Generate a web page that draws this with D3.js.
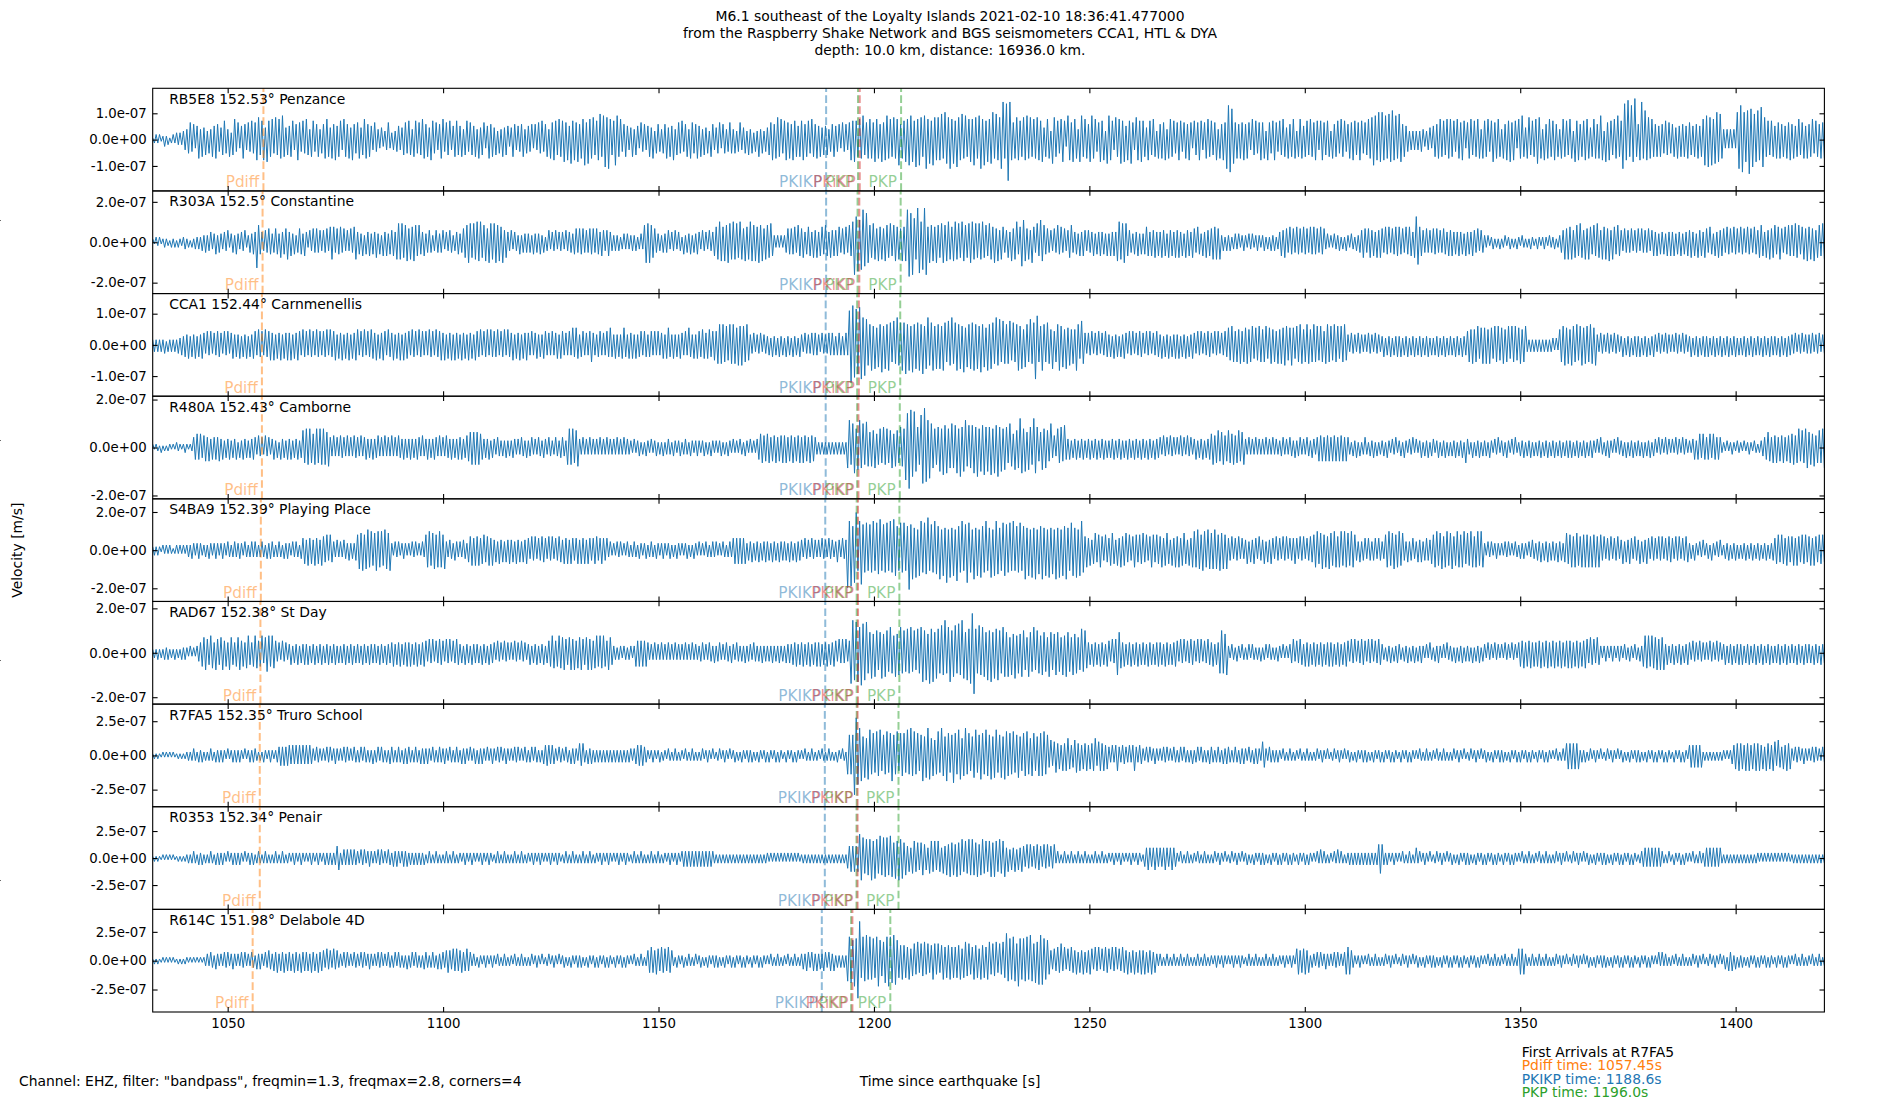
<!DOCTYPE html>
<meta charset="utf-8">
<script src="https://d3js.org/d3.v7.min.js"></script>
<style>
  body { margin: 0; background: #fff; }
  text { font-family: 'DejaVu Sans', sans-serif; }
</style>
<body>
<div id="my_dataviz"></div>
<script>

// station metadata, top to bottom
var stations  = ["RB5E8", "R303A", "CCA1", "R480A", "S4BA9", "RAD67", "R7FA5", "R0353", "R614C"];
var distances = [152.53, 152.5, 152.44, 152.43, 152.39, 152.38, 152.35, 152.34, 151.98];
var places    = ["Penzance", "Constantine", "Carnmenellis", "Camborne", "Playing Place", "St Day", "Truro School", "Penair", "Delabole 4D"];

// y limits (m/s) and y tick step of each panel
var yLimits    = [1.95e-7, 2.54e-7, 1.645e-7, 2.14e-7, 2.69e-7, 2.31e-7, 3.75e-7, 4.75e-7, 4.45e-7];
var yTickSteps = [1e-7, 2e-7, 1e-7, 2e-7, 2e-7, 2e-7, 2.5e-7, 2.5e-7, 2.5e-7];

// phase arrival times (s since earthquake) per station
var pdiffTimes  = [1058.3, 1058.1, 1057.95, 1057.95, 1057.7, 1057.6, 1057.45, 1057.45, 1055.8];
var pkikpTimes  = [1188.9, 1188.9, 1188.8, 1188.8, 1188.7, 1188.7, 1188.6, 1188.6, 1187.9];
var pkikp2Times = [1196.7, 1196.6, 1196.5, 1196.4, 1196.3, 1196.3, 1196.2, 1196.2, 1195.0];   // PKiKP
var pkpTimes    = [1196.3, 1196.2, 1196.1, 1196.1, 1196.0, 1196.0, 1196.0, 1195.95, 1194.7];
var pkpLateTimes= [1206.3, 1206.2, 1206.1, 1206.0, 1205.9, 1205.9, 1205.7, 1205.7, 1203.8];

// time axis
var traceStart = 1032.6, traceEnd = 1420.6;
var xTicks = [1050, 1100, 1150, 1200, 1250, 1300, 1350, 1400];

// trace peaks: one base-36 digit per half cycle (sign alternates), in units of levelUnits[i]
var levelUnits = [6.5e-9, 8.47e-9, 5.48e-9, 7.13e-9, 8.97e-9, 7.7e-9, 1.25e-8, 1.58e-8, 1.48e-8];

var levelsRB5E8 = ["12323124231232434356","68a7958b6a79586a8b97","79b86a49c7a58b96a7b8","acd9bc7dbac8d9cbea79","8ab69ca7b8c96ab79a68",
  "9bca7b9c8ab6ca9b7c98","ab79cb9a86a7657456a5","46578679a8b96ab8a9cb","9a7cb8a69bc7a9b68ab9","8a69b7a98a6b79a58b9a",
  "79586a79847a96879a68","879596a8b79a6bacb9ca","bdac8ebcad9bcfaecbd9","bcfaegdhc9bfeac79a86","7a6985a7968a7b589768",
  "9b7a8c69a8b79a6ba89b","8a69785a9678a59867a8","6857a6785968475a6857","79ac9bdac8bcab9cba8a","bc9ab8ca9b8a7989679a",
  "8795a796acbdbacbe9ab","cbadcb9dacebcadbcf9b","bdcfedbgcfdaehcebfdc","dcfbgedhcebgdcfbeacd","cfdbehcfbdcegbfcdhmb",
  "lomcabdcbadcebdacbdc","bd7acb5edab8cdb4ecad","cb6deacb9debc7adbc5e","ecb6dacebd8cbea6dcbd","ba7cb9ca5b9bac6bcab8",
  "acb7ab9ca5b9acb6abca","b9ac6b9cahkjieab9bac","9ba6c9b8acab5ca8bca7","b9ca7b9acb5acb8ab9ca","acb6bca9ba5b9ab8cab7",
  "9bacb9acb8a9cbdfecgd","gcebfdhcebfd9a875656","56576456758a9bcab9cb","cab7cbacb5abc9bacb6b","bac7bdabca6b9cbdacb5",
  "cbea7bd9bacedb6c9bca","bc9a6bcab9cb5dbc9abc","cb7acb9bec5dacb9cbea","bhlcnakdoa9cmbhcdbca","9a8a98b9a89a7b8a9a8b",
  "a98a9b8acfegdfcegdfb","65656565ghkjgdhkigfd","hcjgdab9ba8bab9a8bac","9b8ac9ab8b9ac8ba9bab"];

var levelsR303A = ["21323123221323132234","23132434354645645746","54657356475465734657","6fa7657687568759678a","68574687586375868675",
  "76859a9687968575869a","67584768576957486857","786abab9ab8a9ba8a768","56764576567465764567","5689acb9bacbc9ab8cba",
  "bcab9c79657465474656","56475657463574657465","64756657868786768786","87687578654545345454","45453454acbca9865546",
  "56746574653746574657","64756475689acb9bacba","cab9ca8b9acbab9cab8a","a9b843434346878796a8","89679869796897a86978",
  "78968796a8cjfhdgjehc","a9ba8b9a8ba9b8ab9a8b","9bjkhjeakicgkj9cab9c","a9bcabca9bcab9cba9bc","cab9bac9a8ba9c8b7a96",
  "796b8ac79edb8a7c96b8","dba7867586a7968579a6","67586875766857686758","58686bcabcb876576857","57986879686978597869",
  "79685978698697586978","8a9a8a45354534545345","43545345434534354534","68798697869786978697","97869784534354453435",
  "43543546798689786979","86979687989786979869","fd987686768786768768","78676867586768768576","43423423242342342324",
  "32432324322432343243","3423467a8a9a79a8b97a","8a97a8b97a9a8b7a97a8","75867685768586768578","68576758686857685768",
  "79685978698697586978","86978697869786978697","79a8697a89a79a8697a8","a8b9a79a8b9a8b79a8ba"];

var levelsCCA1 = ["34343435243434354657","68576857687586857687","75868578676857685768","86978697897968796879","79687986978697869786",
  "87969789687968796879","96879687987968798697","79687969788697869786","86978697897968796978","69786978698796879697",
  "87968796977968796879","76867867688676867868","867686a7a86786768a76","67867687a7686768a768","78686786876786868678",
  "68a76867687686a76868","87987897898bcbcab9cb","cbacbcbac96574657465","56475647564756475647","64756576766475657676",
  "56765676kmnjlhmkgifc","cfbeadcgbecfdaebgcdf","dhcfbgcedfchbegcdfbe","cebfdaecgbdfcebgadce","dfcebgcdafcedbgcfaeb",
  "cbe9dacfbe9dcafbdkha","bfcadb9e8acfbd9eac9b","9fc8eb75768576857687","67586757687586857687","75868576876857685768",
  "68576857687586857687","7586857687a9ba8a9b8a","ab9ab8a9ba9ab8ab9a8b","9bacb9aca8bacb9acb9a","cab9ba8bcab9cab8bac9",
  "64756475646475647564","57465746575746574657","46574657464657465746","56475647568a9b9ab8ab","ab9ba8bab9ab9ab8bab9",
  "ab9ab434343434343434","43439abcab9cbac9bcab","bacbac64756475647564","57465746575746574657","64756475646475647564",
  "57465746575746574657","46574657464657465746","56475647565647564756","65746574656574657465"];

var levelsR480A = ["21221312122121322123","21226787867868576768","57465746573647564657","64756475645746375647","57465746a9bab98ab9ba",
  "ba9b6575657665756576","65756756575675657565","75657657565756576575","57565765756576575657","6756789a9a9a87565746",
  "54654546454654546546","45645465465465446546","654abab9ab5464546454","54645464545464546454","43534534354353453435",
  "34543543453454354345","43453435434345343543","53435435435343578978","89687968797968796879","69786978643434343434",
  "3434343cgaefbdgceafb","9bac8ab9cab9ac8ba9cb","bjkomhlecajlnkgiecba","cebgdfbcecdfbhcegbdc","dfchbedgcecgbfdhcebd",
  "c9eb8dachfbe9dcahfc8","9dbca8e675b9c8d75746","57465746574657465746","46574657464756475647","56475647566475647564",
  "64756475645746574657","8a79a89a78a98a79a89a","54645464545464546454","45645465464564546546","54687868786878687868",
  "64354635346435463534","45364354634536435463","53463546355346354635","35463546395436354635","45364354634536435463",
  "35463546353546354635","46354635464635463546","35464353643546435364","45363546354536354635","53645364535364536453",
  "43574786876786876763","32423432433242343243","23456798697968796879","8a79b8a9bc9a8b79a9bc"];

var levelsS4BA9 = ["23232132323212323232","34354345433435434543","45435434544543543454","54345435455434543545","43545435786978697869",
  "87969754645465464546","9bac9bcab9acbab9cbac","43545345434354534354","9ab9ab9aba9b54654654","54654789798978978979",
  "67586757686758675768","75868576877586857687","68786876786878687678","86787674534354534354","34543543453454354345",
  "43453435434345343543","53435434545343543454","78787878465746574657","56475647565647564756","64756475646475647564",
  "5764756mhlejmchkfdgc","fdhcgeicfdgchdifecgd","gcenfhdgcfhdgejcfdhe","ehcfdjcgdfciedhcfjgd","chdfcgedhcdgcfhedcgf",
  "fdgchcedgcehdfcgdhce","ehdfcgdechdgcfehdcgf","dgcfhd8a7968a79a8697","79a8697a89a7968a9798","a7968a97988a79a8697a",
  "8a79a8697abacb9cbacb","abcb9cab9b7685768575","68576875866857687586","75868576787586857687","9ab8ab9a8ba9ba8ab9ba",
  "a9ba9657567576567576","559ab9ab9ab9a6575675","57675676689ab9ab8ab9","ab89ba9ab8a9ba8ab9ba","43545345434354534354",
  "35454354654657465746","56475647a89a8aa98a9a","9a8a9a8a968576857685","68576875866857687586","75868576877586857687",
  "45364354634536435463","35463546353546354635","46354635467897987987","89798798978979879897"];

var levelsRAD67 = ["23242324342324232434","32423245689a87a96a87","9a786a97689a7869a768","a978a69ba8a975647564","57465746575746574657",
  "46574657464657465746","56475647565647564756","68576857686857685768","75868576877586857687","56475647565647564756",
  "64756475646475647564","57465746574678a978a9","9a879a8a799a879a8a79","a8a9a87a974434434434","43487878786454645464",
  "54645464545464546454","45645465464564546546","54654546455465454645","45464546454656576857","68576857686857685768",
  "758686857ijgihfjhgic","cfbedacfbedbfcaebdfc","dbecfbdaecfhdgbiehcf","ecgdjcfhdegchdjfcgei","noecgdfecgdhcfegdcfe",
  "ce9dbfacbeda9ecbfadc","adcb9ecabdcb9daecb9d","bc9aebd9675867586758","75868dc9685768576857","67586757686758675768",
  "75868576877586857687","68576cdcbd4354354354","34535434353453543435","43534356857687586857","68576857686857685768",
  "75868576877586857687","54354635465435463546","35464353643546435364","45363546354536354635","53645364535364536453",
  "68796879686879687968","79687968797968796879","86978697434543454345","43543543543548a9a8a9","9a8a9a57465746574657",
  "64756475646475647564","57465746575746574657","46574657464657465746","56475647565647564756"];

var levelsR7FA5 = ["12121121212121121212","23234324342323432434","34324234343432423434","43232432343234565656","65656565656565435443",
  "43545345434354534354","34535434353453543435","54345435455434543545","45435434544543543454","35454353453545435345",
  "43545345434354534354","34535434356665654354","43543545437674354534","34343434343434343434","43456666543234323423",
  "32432343233243234323","23423432422342343242","34232432343423243234","24323424322432342432","32432343233243234323",
  "2432432bcbcnmhgfbdae","fbdaecf9cbeadfcbe9dc","dafbgcebd9cfbdgeac9b","eagcbfdacgdbfeacgbd9","bdfacedbfccebdfacdbe",
  "ecdbeacdb9dcebacd9bc","dcebc7968a786979a867","9a7968796879a6897968","54646954655464695465","43545345434354534354",
  "34535434353453543435","54345435455434543545","43543545438743543434","32432343233243234323","23423432422342343242",
  "34232432343423243234","24323424322432342432","32432343233243234323","23423432422342343242","34232432343423243234",
  "24323424322432342432","32432343787878783434","23423432422342343242","34232432343423243234","24323424322432342432",
  "67676767232323232323","32323568797869796879","79685978698697586978","43545345434354534354"];

var levelsR0353 = ["12121121212121121212","23234324342323432434","34324234343432423434","23432343232343234323","32343234323234323432",
  "34343434773454545454","43545345434354534354","35454345453434343434","23432343232343234323","32343234323234323432",
  "23432343232343234323","32343234323234323432","23432343232343234323","32343234323234323432","23432343232343234323",
  "32343234324545454545","45454545432323232323","23232323232323232323","32323232323232323232","23232323232323232323",
  "23232326787878edc9ba","bdacb9dacbcadb9cadbc","9a7869a8979a8769a8a7","a8697a8b9a8b9ab8a9ba","ba9b8ab9a8ab9ba8b9ab",
  "68576857687586857687","75868576834323432343","23432343232343234323","32343234323234323432","25676567656567656765",
  "32432343233243234323","23423432422342343242","34232432343423243234","24323424322432342432","32435343233243534323",
  "34343434343434343489","84343234323243234323","63423432422342343242","34232432343423243234","24323424322432342432",
  "32432343233243234323","23423432422342343242","34232432343423243234","24323424322345656565","65654323422432342432",
  "32432343356565656563","23232323232323232323","32323232323232323232","23232323232323232323"];

var levelsR614C = ["12121121212121121212","21212121212343543543","43545345434354534354","35454354654657465746","56475647565647564756",
  "64756475644354534354","43545345434354534354","34535434353453543435","54345435455467657676","67567653432432343234",
  "32432343233243234323","23423432422342343242","34232432343423243234","24323424322432342432","32432343236787687687",
  "76876324323423432342","34232432343423243234","24323424322432342432","32432343233243234323","45465456464546545646",
  "3434343cedcfdmnaecfb","ebdaefc9bdefedfeca9b","9a8b79a8b7a9b8a79ba8","a79b8a9b8a8a9b7ab9a8","8b9a7b9a8bb8a9b7a8ba",
  "gcdbecafdbdcebfcadbe","fedbc8657687a6857687","68576857687586857687","75868576876857685768","68576857434323432343",
  "23432343232343234323","32343234323234323432","23432343232343234323","32343234327867786734","43545345434354534358",
  "88643234323243234323","23423432422342343242","34232432343423243234","24323424322432342432","32432343233243234323",
  "78784323432343234323","23423432422342343242","34232432343423243234","24323424322432342432","32535343233243234323",
  "23423432422342343242","35265635243423243234","24323424322432342432","32432343233243234323"];

var traceLevels = [levelsRB5E8, levelsR303A, levelsCCA1, levelsR480A, levelsS4BA9, levelsRAD67, levelsR7FA5, levelsR0353, levelsR614C];

// texts
var titleLines = ["M6.1 southeast of the Loyalty Islands 2021-02-10 18:36:41.477000",
                  "from the Raspberry Shake Network and BGS seismometers CCA1, HTL & DYA",
                  "depth: 10.0 km, distance: 16936.0 km."];
var firstArrivalStation = "R7FA5";
var firstArrivalNames = ["Pdiff", "PKIKP", "PKP"];
var firstArrivalTimes = ["1057.45", "1188.6", "1196.0"];

// ---------------------------------------------------------------

var W = 1900, H = 1100;
var plotLeft = 152.7, plotRight = 1824.4, plotTop = 88.3, plotBottom = 1012;
var panelH = (plotBottom - plotTop) / stations.length;

var svg = d3.select("#my_dataviz")
  .append("svg")
    .attr("width", W)
    .attr("height", H);

var x = d3.scaleLinear().domain([traceStart, traceEnd]).range([plotLeft, plotRight]);

// exponent with two digits, like matplotlib's %.1e
function fmtExp(v) {
  return v.toExponential(1).replace(/e([+-])(\d+)$/, function(m, s, d) {
    return "e" + s + (d.length < 2 ? "0" + d : d);
  });
}

function styleAxis(a) {
  a.select(".domain").remove();
  a.attr("font-family", "DejaVu Sans").attr("font-size", 13.3);
  a.selectAll(".tick line").attr("stroke", "#000").attr("stroke-width", 1.1);
  a.selectAll(".tick text").attr("fill", "#000");
}

var phases = [
  {name: "Pdiff", times: pdiffTimes,   color: "#ff7f0e"},
  {name: "PKIKP", times: pkikpTimes,   color: "#1f77b4"},
  {name: "PKP",   times: pkpTimes,     color: "#2ca02c"},
  {name: "PKiKP", times: pkikp2Times,  color: "#d62728"},
  {name: "PKP",   times: pkpLateTimes, color: "#2ca02c"}
];

var defs = svg.append("defs");

stations.forEach(function(st, i) {
  var top = plotTop + i * panelH;
  var g = svg.append("g").attr("transform", "translate(0," + top + ")");

  var y = d3.scaleLinear().domain([-yLimits[i], yLimits[i]]).range([panelH, 0]);

  defs.append("clipPath").attr("id", "clip" + i)
    .append("rect")
      .attr("x", plotLeft).attr("y", 0)
      .attr("width", plotRight - plotLeft).attr("height", panelH);

  // decode trace
  var lv = traceLevels[i].join("");
  var n = lv.length;
  var data = d3.range(n).map(function(k) {
    return {
      t: traceStart + k * (traceEnd - traceStart) / (n - 1),
      v: (k % 2 ? -1 : 1) * parseInt(lv[k], 36) * levelUnits[i]
    };
  });

  g.append("path")
    .datum(data)
    .attr("clip-path", "url(#clip" + i + ")")
    .attr("fill", "none")
    .attr("stroke", "#1f77b4")
    .attr("stroke-width", 1)
    .attr("stroke-linejoin", "round")
    .attr("d", d3.line().x(function(d) { return x(d.t); }).y(function(d) { return y(d.v); }));

  // station label
  g.append("text")
    .attr("x", plotLeft + 16.5)
    .attr("y", 15.5)
    .attr("font-size", 13.9)
    .attr("fill", "#000")
    .text(st + " " + distances[i] + "\u00b0 " + places[i]);

  // phase lines + labels
  phases.forEach(function(p) {
    var px = x(p.times[i]);
    g.append("line")
      .attr("x1", px).attr("x2", px)
      .attr("y1", panelH).attr("y2", 0)
      .attr("stroke", p.color)
      .attr("stroke-opacity", 0.5)
      .attr("stroke-width", 2)
      .attr("stroke-dasharray", "7.7,3.3");
    g.append("text")
      .attr("x", px - 4)
      .attr("y", panelH - 3.5)
      .attr("text-anchor", "end")
      .attr("font-size", 15.3)
      .attr("fill", p.color)
      .attr("fill-opacity", 0.5)
      .text(p.name);
  });

  // axes
  var s = yTickSteps[i];
  g.append("g").attr("transform", "translate(" + plotLeft + ",0)")
    .call(d3.axisLeft(y).tickValues([-s, 0, s]).tickSizeInner(-4.9).tickSizeOuter(0).tickPadding(6).tickFormat(fmtExp))
    .call(styleAxis);
  g.append("g").attr("transform", "translate(" + plotRight + ",0)")
    .call(d3.axisRight(y).tickValues([-s, 0, s]).tickSizeInner(-4.9).tickSizeOuter(0).tickFormat(""))
    .call(styleAxis);
  g.append("g")
    .call(d3.axisTop(x).tickValues(xTicks).tickSizeInner(-4.9).tickSizeOuter(0).tickFormat(""))
    .call(styleAxis);
  g.append("g").attr("transform", "translate(0," + panelH + ")")
    .call(d3.axisBottom(x).tickValues(xTicks).tickSizeInner(-4.9).tickSizeOuter(0).tickPadding(6.5)
      .tickFormat(i === stations.length - 1 ? d3.format("d") : ""))
    .call(styleAxis);

  // frame
  g.append("rect")
    .attr("x", plotLeft).attr("y", 0)
    .attr("width", plotRight - plotLeft).attr("height", panelH)
    .attr("fill", "none")
    .attr("stroke", "#000")
    .attr("stroke-width", 1.1);
});

// hidden full-figure axis: only its tick stubs poke in at the left edge
var yFig = d3.scaleLinear().domain([0, 1]).range([H, 0]);
svg.append("g").attr("transform", "translate(0.6,0)")
  .call(d3.axisLeft(yFig).tickValues([0.2, 0.4, 0.6, 0.8]).tickSize(4).tickFormat(""))
  .call(function(a) { a.select(".domain").remove(); a.selectAll("line").attr("stroke", "#000"); });

// title
svg.selectAll(".title")
  .data(titleLines)
  .enter().append("text")
    .attr("x", 950)
    .attr("y", function(d, k) { return 16.3 + k * 16.8; })
    .attr("text-anchor", "middle")
    .attr("dominant-baseline", "central")
    .attr("font-size", 13.9)
    .text(function(d) { return d; });

// y label
svg.append("text")
  .attr("transform", "translate(17," + ((plotTop + plotBottom) / 2) + ")rotate(-90)")
  .attr("text-anchor", "middle")
  .attr("dominant-baseline", "central")
  .attr("font-size", 13.9)
  .text("Velocity [m/s]");

// x label
svg.append("text")
  .attr("x", 950).attr("y", 1080.7)
  .attr("text-anchor", "middle")
  .attr("dominant-baseline", "central")
  .attr("font-size", 13.9)
  .text("Time since earthquake [s]");

// filter note
svg.append("text")
  .attr("x", 19).attr("y", 1080.7)
  .attr("dominant-baseline", "central")
  .attr("font-size", 13.9)
  .text('Channel: EHZ, filter: "bandpass", freqmin=1.3, freqmax=2.8, corners=4');

// first arrivals box
var arrColors = ["#ff7f0e", "#1f77b4", "#2ca02c"];
svg.append("text")
  .attr("x", 1521.7).attr("y", 1051.7)
  .attr("dominant-baseline", "central")
  .attr("font-size", 13.9)
  .text("First Arrivals at " + firstArrivalStation);
firstArrivalNames.forEach(function(nm, k) {
  svg.append("text")
    .attr("x", 1521.7).attr("y", 1065.2 + k * 13.5)
    .attr("dominant-baseline", "central")
    .attr("font-size", 13.9)
    .attr("fill", arrColors[k])
    .text(nm + " time: " + firstArrivalTimes[k] + "s");
});

</script>
</body>
